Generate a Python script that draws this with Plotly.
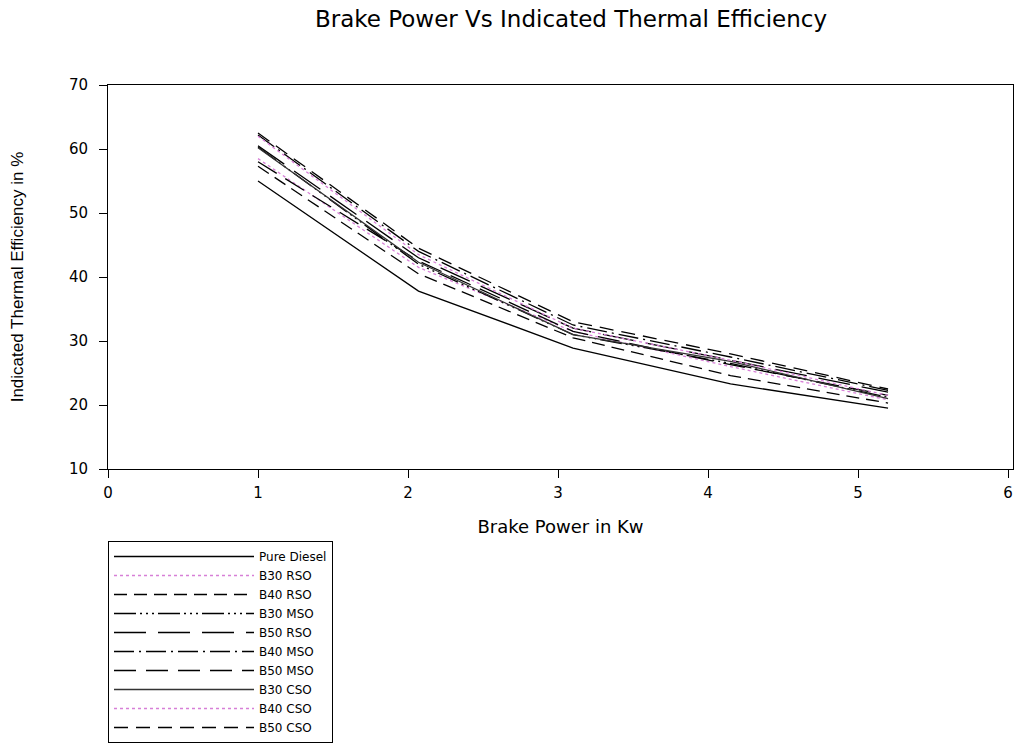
import plotly.graph_objects as go

brake_power = [1.0, 2.07, 3.1, 4.15, 5.2]

series_names = ["Pure Diesel", "B30 RSO", "B40 RSO", "B30 MSO", "B50 RSO",
                "B40 MSO", "B50 MSO", "B30 CSO", "B40 CSO", "B50 CSO"]

pure_diesel = [55.0, 37.8, 28.9, 23.3, 19.5]
b30_rso = [58.5, 41.5, 31.5, 26.0, 20.8]
b40_rso = [57.3, 40.5, 30.5, 24.6, 20.3]
b30_mso = [60.3, 42.0, 31.0, 26.5, 21.2]
b50_rso = [60.5, 43.0, 32.0, 27.0, 22.0]
b40_mso = [62.2, 44.0, 32.5, 27.5, 22.3]
b50_mso = [58.0, 42.5, 31.5, 26.3, 21.5]
b30_cso = [60.2, 42.3, 31.0, 26.8, 21.0]
b40_cso = [62.0, 43.5, 32.0, 27.0, 21.5]
b50_cso = [62.5, 44.5, 33.0, 28.0, 22.5]

values = [pure_diesel, b30_rso, b40_rso, b30_mso, b50_rso,
          b40_mso, b50_mso, b30_cso, b40_cso, b50_cso]

styles = [
    ("black", "solid"),
    ("#d77fd7", "dot"),
    ("black", "13px,7px"),
    ("black", "22px,4px,2px,4px,2px,4px,2px,4px"),
    ("black", "32px,12px"),
    ("black", "20px,5px,2px,5px"),
    ("black", "22px,10px"),
    ("#333333", "solid"),
    ("#d77fd7", "dot"),
    ("black", "14px,8px"),
]

FONT = "DejaVu Sans, Liberation Sans, Arial"

fig = go.Figure()
for name, vals, (col, dash) in zip(series_names, values, styles):
    fig.add_trace(go.Scatter(x=brake_power, y=vals, mode="lines", name=name,
                             line=dict(color=col, dash=dash, width=1.3)))

fig.update_layout(
    width=1016, height=744,
    paper_bgcolor="white", plot_bgcolor="white",
    margin=dict(l=108, r=3, t=85, b=275, autoexpand=False),
    font=dict(family=FONT, color="black", size=15),
    title=dict(text="Brake Power Vs Indicated Thermal Efficiency",
               x=0.562, xanchor="center", y=0.9745, yanchor="middle",
               font=dict(size=23, color="black", family=FONT)),
    showlegend=True,
    legend=dict(x=0.0, xanchor="left", y=-0.1875, yanchor="top",
                bgcolor="white", bordercolor="black", borderwidth=1,
                font=dict(size=12, family=FONT), itemwidth=140, tracegroupgap=0,
                traceorder="normal"),
)
fig.update_xaxes(range=[0, 6.033], tickvals=[0, 1, 2, 3, 4, 5, 6], showgrid=False, zeroline=False,
                 showline=True, linecolor="black", linewidth=1, mirror=True,
                 ticks="outside", ticklen=8, tickcolor="black",
                 ticklabelstandoff=2, automargin=False,
                 tickfont=dict(size=15),
                 title=dict(text="Brake Power in Kw", font=dict(size=18), standoff=19))
fig.update_yaxes(range=[10, 70], dtick=10, showgrid=False, zeroline=False,
                 showline=True, linecolor="black", linewidth=1, mirror=True,
                 ticks="outside", ticklen=8, tickcolor="black",
                 ticklabelstandoff=8, automargin=False,
                 tickfont=dict(size=15),
                 title=dict(text="Indicated Thermal Efficiency in %",
                            font=dict(size=17, family="Liberation Sans Narrow, Liberation Sans, Arial"),
                            standoff=40))

fig.write_html("out.html", config={"displayModeBar": False},
               post_script="document.body.style.margin='0';document.body.style.overflow='hidden';")
